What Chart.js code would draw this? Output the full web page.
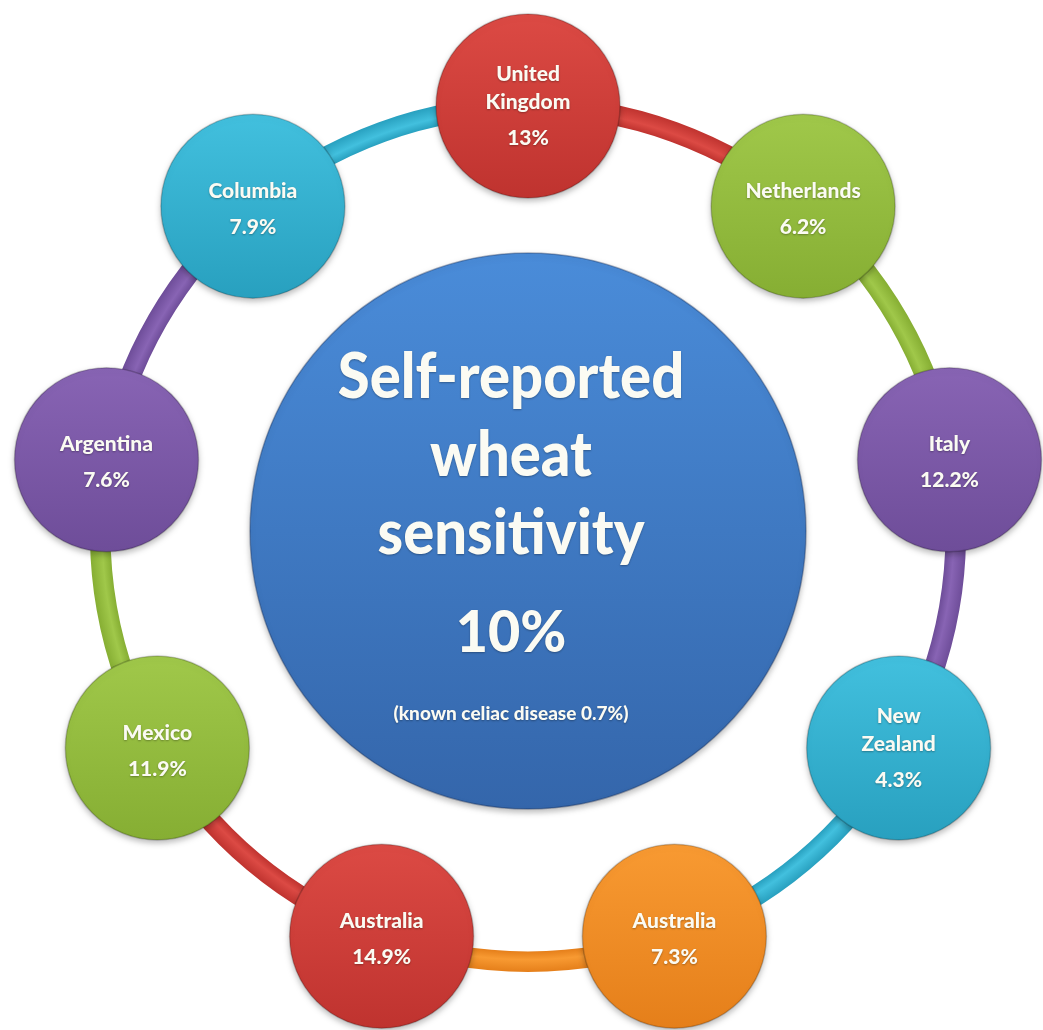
<!DOCTYPE html>
<html>
<head>
<meta charset="utf-8">
<script src="https://cdn.jsdelivr.net/npm/chart.js@4.4.0/dist/chart.umd.min.js"></script>
<style>
html, body { margin: 0; padding: 0; background: #fff; }
#wrap { position: relative; width: 1043px; height: 1030px; }
#ringBox { position: absolute; left: 90px; top: 96px; width: 876px; height: 876px; }
#dotBox { position: absolute; left: 0; top: 0; width: 1043px; height: 1030px; }
</style>
</head>
<body>
<div id="wrap">
  <div id="ringBox"><canvas id="ring"></canvas></div>
  <div id="dotBox"><canvas id="dots"></canvas></div>
</div>
<script>
// data (clockwise from the top)
var countries = ['United Kingdom', 'Netherlands', 'Italy', 'New Zealand', 'Australia', 'Australia', 'Mexico', 'Argentina', 'Columbia'];
var rates = [13, 6.2, 12.2, 4.3, 7.3, 14.9, 11.9, 7.6, 7.9];
var centerTitle = ['Self-reported', 'wheat', 'sensitivity'];
var overallRate = 10;
var celiacRate = 0.7;

// styles
var palette = {
    red:    ['#dc4a44', '#bf332f'],
    green:  ['#a0c84a', '#86ae33'],
    purple: ['#8864b4', '#6e4d99'],
    cyan:   ['#42c0de', '#28a0bf'],
    orange: ['#f89a32', '#e57f1a'],
    blue:   ['#4a8cd9', '#3466ab']
};
var countryColors = ['red', 'green', 'purple', 'cyan', 'orange', 'red', 'green', 'purple', 'cyan'];

// layout in pixels
var CX = 528, CY = 534, RING_R = 428, SMALL_R = 92, BIG_R = 278;
var FONT = 'Lato, "Open Sans", sans-serif';
var W_TEXT = '900 ';

function angleOf(i) {
    return (-90 + i * 360 / countries.length) * Math.PI / 180;
}

function vGradient(ctx, key) {
    var chart = ctx.chart;
    if (!chart.chartArea || !chart.scales.y || !ctx.raw) return palette[key][0];
    var y = chart.scales.y.getPixelForValue(ctx.raw.y);
    if (!isFinite(y)) return palette[key][0];
    var g = chart.ctx.createLinearGradient(0, y - ctx.raw.r, 0, y + ctx.raw.r);
    g.addColorStop(0, palette[key][0]);
    g.addColorStop(1, palette[key][1]);
    return g;
}

// the connecting ring
var ringCut = 0.953;
new Chart(document.getElementById('ring').getContext('2d'), {
    type: 'doughnut',
    data: {
        labels: countries,
        datasets: [{
            data: countries.map(function () { return 1; }),
            borderWidth: 0,
            backgroundColor: function (ctx) {
                var key = countryColors[ctx.dataIndex];
                var area = ctx.chart.chartArea;
                if (!area) return palette[key][0];
                var cx = (area.left + area.right) / 2, cy = (area.top + area.bottom) / 2;
                var outer = Math.min(area.width, area.height) / 2;
                var g = ctx.chart.ctx.createRadialGradient(cx, cy, outer * ringCut, cx, cy, outer);
                g.addColorStop(0, palette[key][1]);
                g.addColorStop(0.4, palette[key][0]);
                g.addColorStop(1, palette[key][1]);
                return g;
            }
        }]
    },
    options: {
        responsive: true,
        maintainAspectRatio: false,
        animation: false,
        events: [],
        cutout: (ringCut * 100) + '%',
        layout: { padding: 0 },
        plugins: { legend: { display: false }, tooltip: { enabled: false } }
    }
});

var shadowPlugin = {
    id: 'shadow',
    beforeDatasetsDraw: function (chart) {
        var c = chart.ctx;
        c.save();
        c.shadowColor = 'rgba(0,0,0,0.28)';
        c.shadowBlur = 6;
        c.shadowOffsetY = 3;
    },
    afterDatasetsDraw: function (chart) {
        chart.ctx.restore();
    }
};

function squeezed(c, text, x, y, font, sx) {
    c.save();
    c.translate(x, y);
    c.scale(sx, 1);
    c.font = font;
    c.fillText(text, 0, 0);
    c.restore();
}

var labelPlugin = {
    id: 'labels',
    afterDatasetsDraw: function (chart) {
        var c = chart.ctx;
        c.save();
        c.fillStyle = '#fbfbf3';
        c.textAlign = 'center';
        c.textBaseline = 'alphabetic';
        c.shadowColor = 'rgba(0,0,0,0.3)';
        c.shadowBlur = 2;
        c.shadowOffsetY = 1;

        var small = chart.getDatasetMeta(1).data;
        small.forEach(function (pt, i) {
            var lines = countries[i].split(' ');
            var n = lines.length;
            var span = 28 * (n - 1) + 36;
            var top = pt.y + 2 - span / 2 - (n - 1) * 2.5;
            c.font = W_TEXT + '21px ' + FONT;
            lines.forEach(function (t, k) {
                c.fillText(t, pt.x, top + k * 28 + 7.5);
            });
            c.fillText(rates[i] + '%', pt.x, top + span + 7.5);
        });

        // centre text sits a little left of the circle's centre
        var mid = chart.getDatasetMeta(0).data[0];
        var tx = mid.x - 17;
        centerTitle.forEach(function (t, k) {
            squeezed(c, t, tx, mid.y - 133 + k * 78, W_TEXT + '63px ' + FONT, 0.92);
        });
        squeezed(c, overallRate + '%', tx, mid.y + 121, W_TEXT + '58px ' + FONT, 0.96);
        c.font = W_TEXT + '19px ' + FONT;
        c.fillText('(known celiac disease ' + celiacRate + '%)', tx, mid.y + 189);
        c.restore();
    }
};

new Chart(document.getElementById('dots').getContext('2d'), {
    type: 'bubble',
    data: {
        datasets: [{
            data: [{ x: CX, y: CY - 3, r: BIG_R }],
            backgroundColor: function (ctx) { return vGradient(ctx, 'blue'); },
            borderColor: 'rgba(20,40,80,0.35)',
            borderWidth: 1.5
        }, {
            data: countries.map(function (name, i) {
                return {
                    x: CX + RING_R * Math.cos(angleOf(i)),
                    y: CY + RING_R * Math.sin(angleOf(i)),
                    r: SMALL_R
                };
            }),
            backgroundColor: function (ctx) { return vGradient(ctx, countryColors[ctx.dataIndex]); },
            borderColor: 'rgba(0,0,0,0.2)',
            borderWidth: 1.5
        }]
    },
    options: {
        responsive: true,
        maintainAspectRatio: false,
        animation: false,
        events: [],
        clip: false,
        layout: { padding: 0, autoPadding: false },
        scales: {
            x: { type: 'linear', display: false, min: 0, max: 1043 },
            y: { type: 'linear', display: false, min: 0, max: 1030, reverse: true }
        },
        plugins: { legend: { display: false }, tooltip: { enabled: false } }
    },
    plugins: [shadowPlugin, labelPlugin]
});
</script>
</body>
</html>
